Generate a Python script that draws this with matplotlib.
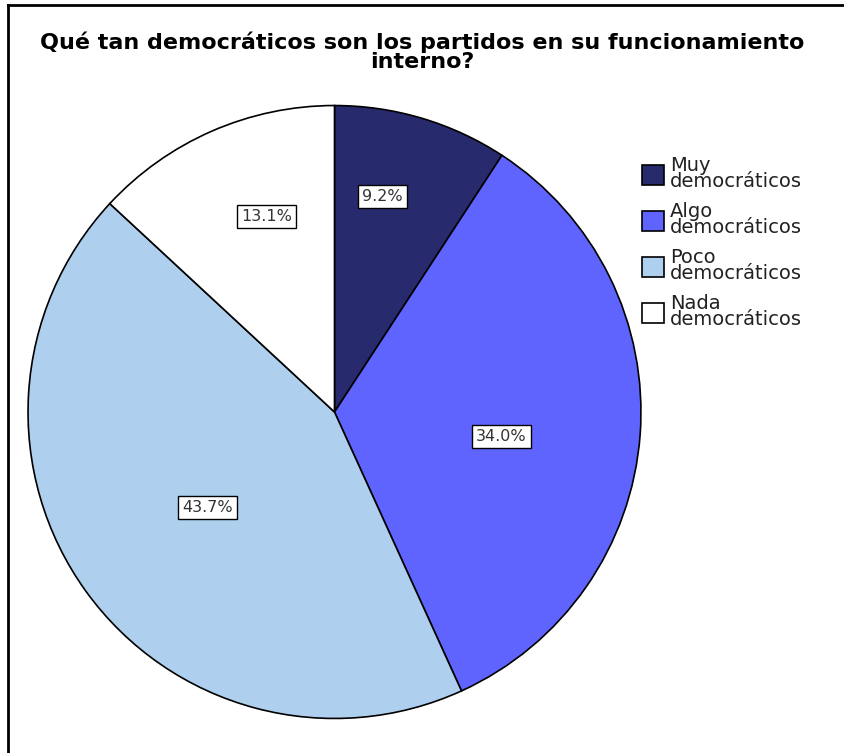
import matplotlib.pyplot as plt
import numpy as np

# data
categorias = ['Muy\ndemocráticos', 'Algo\ndemocráticos', 'Poco\ndemocráticos', 'Nada\ndemocráticos']
porcentajes = [9.2, 34.0, 43.7, 13.1]
colores = ['#282A6E', '#5F64FF', '#AED0EE', '#FFFFFF']
titulo = 'Qué tan democráticos son los partidos en su funcionamiento\ninterno?'

# label positions (fraction of radius, angle in degrees), per slice
pos_etiqueta = [(0.72, 77.4), (0.55, -8.5), (0.518, 217.0), (0.677, 109.2)]

W, H = 844, 753
fig = plt.figure(figsize=(W / 100, H / 100), dpi=100)

# pie axes: centre (334, 412), radius 308 px
cx, cy, r = 334.5, 412, 308
ax = fig.add_axes([(cx - r) / W, (H - cy - r) / H, 2 * r / W, 2 * r / H])
wedges, _ = ax.pie(porcentajes, colors=colores, startangle=90, counterclock=False,
                   radius=1, wedgeprops=dict(edgecolor='black', linewidth=1.2))
ax.set_xlim(-1.005, 1.005)
ax.set_ylim(-1.005, 1.005)
ax.set_aspect('equal')
ax.axis('off')

for p, (d, a) in zip(porcentajes, pos_etiqueta):
    ang = np.deg2rad(a)
    ax.text(d * np.cos(ang), d * np.sin(ang), '%.1f%%' % p, ha='center', va='center',
            fontsize=11.5, color='#333333',
            bbox=dict(boxstyle='square,pad=0.25', facecolor='white', edgecolor='black', linewidth=1))

fig.text(0.5, 1 - 52 / H, titulo, ha='center', va='center', fontsize=16, fontweight='bold',
         linespacing=0.95)

leg = fig.legend(wedges, categorias, loc='upper left', bbox_to_anchor=(642 / W, 1 - 156 / H),
                 frameon=False, fontsize=14, handlelength=1.15, handleheight=1.2,
                 handletextpad=0.3, labelspacing=0.55, borderpad=0, borderaxespad=0)
for t in leg.get_texts():
    t.set_color('#222222')
    t.set_linespacing(0.82)

# outer frame (top and left only)
fig.add_artist(plt.Line2D([8 / W, 1], [1 - 5 / H, 1 - 5 / H], color='black', lw=2))
fig.add_artist(plt.Line2D([8 / W, 8 / W], [0, 1 - 5 / H], color='black', lw=2))

fig.savefig('out.png', dpi=100)
